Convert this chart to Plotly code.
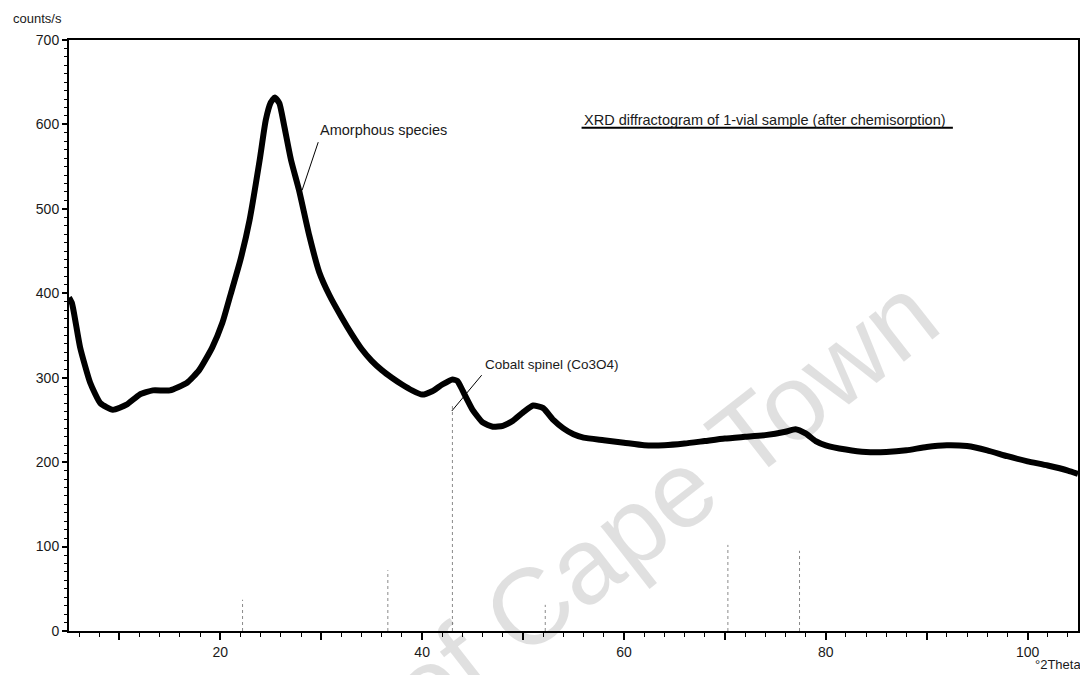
import plotly.graph_objects as go

# Diffractogram (2Theta in degrees, counts/s)
two_theta = [5.0, 5.3, 6.1, 7.1, 8.1, 9.35, 10.7, 12.0, 13.3, 15.0, 16.7, 17.9, 19.2, 20.2,
             21.0, 22.0, 22.9, 23.9, 24.5, 25.0, 25.4, 25.85, 26.3, 27.0, 27.8, 28.8, 29.8,
             30.8, 32.0, 33.0, 34.0, 35.0, 36.0, 37.0, 38.0, 39.0, 40.0, 41.0, 42.0, 43.0,
             43.5, 44.0, 45.0, 46.0, 47.0, 48.0, 49.0, 50.0, 51.0, 52.0, 53.0, 54.0, 55.0,
             56.0, 58.0, 60.0, 62.0, 64.0, 66.0, 68.0, 70.0, 72.0, 74.0, 76.0, 77.0, 78.0,
             79.0, 80.0, 82.0, 84.0, 86.0, 88.0, 90.0, 92.0, 94.0, 96.0, 98.0, 100.0, 102.0,
             104.0, 105.0]
counts = [395, 388, 336, 294, 270, 262, 268, 280, 285, 285, 294, 309, 336, 365,
          398, 440, 487, 558, 605, 626, 632, 625, 600, 558, 522, 469, 425,
          398, 372, 352, 334, 320, 309, 300, 292, 285, 280, 284, 292, 298,
          296, 285, 262, 247, 242, 243, 249, 259, 267, 264, 250, 240, 233,
          229, 226, 223, 220, 220, 222, 225, 228, 230, 232, 236, 239, 234,
          225, 220, 215, 212, 212, 214, 218, 220, 219, 214, 207, 201, 196,
          190, 186]

# Reference pattern sticks
stick_x = [22.2, 36.6, 43.0, 52.2, 70.3, 77.4]
stick_h = [37, 72, 270, 31, 102, 95]

x_tick_vals = [10, 20, 30, 40, 50, 60, 70, 80, 90, 100]
x_tick_text = ["", "20", "", "40", "", "60", "", "80", "", "100"]
y_tick_vals = [0, 100, 200, 300, 400, 500, 600, 700]
y_tick_text = ["0", "100", "200", "300", "400", "500", "600", "700"]

sx, sy = [], []
for x, h in zip(stick_x, stick_h):
    sx += [x, x, None]
    sy += [0, h, None]

FAM = "Liberation Sans, Arial, sans-serif"
TXT = "#1a1a1a"

fig = go.Figure()
fig.add_trace(go.Scatter(x=sx, y=sy, mode="lines",
                         line=dict(color="#8a8a8a", width=1, dash="dot"),
                         hoverinfo="skip", showlegend=False))
fig.add_trace(go.Scatter(x=two_theta, y=counts, mode="lines",
                         line=dict(color="black", width=6, shape="spline", smoothing=0.5),
                         showlegend=False))

tickfont = dict(family=FAM, size=14, color=TXT)

fig.update_layout(
    width=1080, height=667,
    margin=dict(l=61, r=8, t=32, b=44),
    paper_bgcolor="white", plot_bgcolor="white",
    font=dict(family=FAM, size=14, color=TXT),
    xaxis=dict(range=[5, 105], tickvals=x_tick_vals, ticktext=x_tick_text,
               ticks="outside", ticklen=7, tickwidth=1.5, tickcolor="black",
               showline=True, linecolor="black", linewidth=2, mirror=True,
               showgrid=False, zeroline=False,
               minor=dict(dtick=2, ticks="outside", ticklen=4, tickcolor="black", tickwidth=1.2, showgrid=False),
               tickfont=tickfont),
    yaxis=dict(range=[0, 700], tickvals=y_tick_vals, ticktext=y_tick_text,
               ticks="outside", ticklen=5, tickwidth=1.5, tickcolor="black",
               showline=True, linecolor="black", linewidth=2, mirror=True,
               showgrid=False, zeroline=False,
               minor=dict(dtick=10, ticks="outside", ticklen=3, tickcolor="black", tickwidth=1.2, showgrid=False),
               tickfont=tickfont),
)

# Watermark
fig.add_annotation(text="University of Cape Town", xref="paper", yref="paper",
                   x=0.392, y=-0.045, xanchor="center", yanchor="middle",
                   showarrow=False, textangle=-38,
                   font=dict(size=108, family=FAM, color="rgba(0,0,0,0.12)"))

# Axis unit labels
fig.add_annotation(text="counts/s", xref="paper", yref="paper", x=-0.0574, y=1.037,
                   xanchor="left", yanchor="middle", showarrow=False,
                   font=dict(size=13, family=FAM, color=TXT))
fig.add_annotation(text="°2Theta", xref="paper", yref="paper", x=1.005, y=-0.0575,
                   xanchor="right", yanchor="middle", showarrow=False,
                   font=dict(size=13, family=FAM, color=TXT))

# Title with underline
fig.add_annotation(text="XRD diffractogram of 1-vial sample (after chemisorption)",
                   x=55.8, y=605, xref="x", yref="y", xanchor="left", yanchor="middle",
                   showarrow=False, font=dict(size=14.5, family=FAM, color=TXT))
fig.add_shape(type="line", xref="x", yref="y", x0=55.8, x1=92.6, y0=596, y1=596,
              line=dict(color="black", width=2))

# Peak labels (text + leader line)
fig.add_annotation(text="Amorphous species", x=29.7, y=593, xref="x", yref="y",
                   xanchor="left", yanchor="middle", showarrow=False,
                   font=dict(size=14.5, family=FAM, color=TXT))
fig.add_shape(type="line", xref="x", yref="y", x0=28.1, y0=522, x1=29.7, y1=579,
              line=dict(color="black", width=1))
fig.add_annotation(text="Cobalt spinel (Co3O4)", x=46.0, y=316, xref="x", yref="y",
                   xanchor="left", yanchor="middle", showarrow=False,
                   font=dict(size=13.5, family=FAM, color=TXT))
fig.add_shape(type="line", xref="x", yref="y", x0=42.94, y0=260.6, x1=45.9, y1=303,
              line=dict(color="black", width=1))

fig.write_html("out.html")
